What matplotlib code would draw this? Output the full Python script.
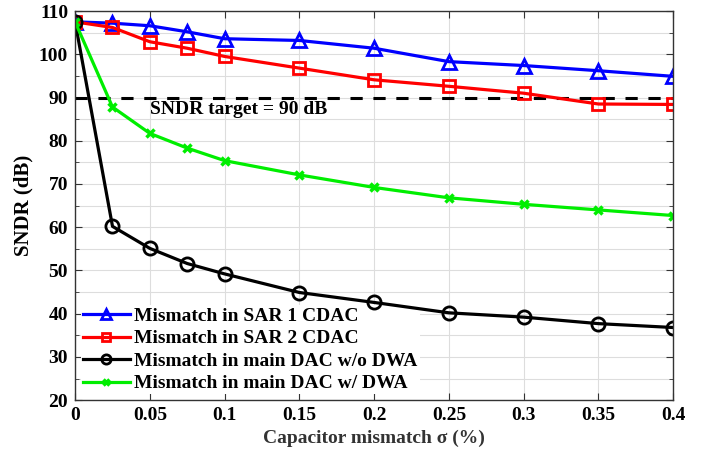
import numpy as np
import matplotlib.pyplot as plt
from matplotlib.ticker import MultipleLocator

plt.rcParams['font.family'] = ['Liberation Serif', 'DejaVu Serif']
plt.rcParams['font.weight'] = 'bold'

# capacitor mismatch sigma (%)
sigma = [0, 0.025, 0.05, 0.075, 0.1, 0.15, 0.2, 0.25, 0.3, 0.35, 0.4]

sar1 = [107.5, 107.2, 106.6, 105.2, 103.6, 103.2, 101.4, 98.3, 97.4, 96.2, 94.9]
sar2 = [107.5, 106.2, 102.9, 101.4, 99.5, 96.8, 94.1, 92.6, 91.0, 88.5, 88.4]
main_nodwa = [107.5, 60.2, 55.1, 51.6, 49.2, 44.9, 42.6, 40.2, 39.2, 37.7, 36.8]
main_dwa = [107.5, 87.8, 81.7, 78.3, 75.4, 72.1, 69.2, 66.8, 65.3, 64.0, 62.7]
target = 90

fig = plt.figure(figsize=(7.02, 4.61), dpi=100)
ax = fig.add_axes([0.107, 0.132, 0.852, 0.844])

ax.plot([0, 0.4], [target, target], 'k--', lw=2.2, dashes=(4, 3.5))
ax.text(0.05, 87.2, 'SNDR target = 90 dB', fontsize=14, fontweight='bold', va='center')

ax.plot(sigma, sar1, color='blue', lw=2.3, marker='^', ms=10, mfc='none', mew=2,
        label='Mismatch in SAR 1 CDAC')
ax.plot(sigma, sar2, color='red', lw=2.3, marker='s', ms=8, mfc='none', mew=2,
        label='Mismatch in SAR 2 CDAC')
ax.plot(sigma, main_nodwa, color='black', lw=2.3, marker='o', ms=9.5, mfc='none', mew=2,
        label='Mismatch in main DAC w/o DWA')
ax.plot(sigma, main_dwa, color='#00ee00', lw=2.3, marker='x', ms=6, mew=2.5,
        label='Mismatch in main DAC w/ DWA')

ax.set_xlim(0, 0.4)
ax.set_ylim(20, 110)
ax.set_xticks(np.arange(0, 0.401, 0.05))
ax.set_xticklabels(['0', '0.05', '0.1', '0.15', '0.2', '0.25', '0.3', '0.35', '0.4'])
ax.set_yticks(np.arange(20, 111, 10))
ax.yaxis.set_minor_locator(MultipleLocator(5))
ax.grid(True, which='major', color='#dddddd', lw=0.8)
ax.grid(True, which='minor', axis='y', color='#dddddd', lw=0.8)
ax.set_axisbelow(True)
ax.tick_params(which='both', direction='in', top=True, right=True, labelsize=14,
               color='#333333', length=5, pad=5)
ax.tick_params(which='minor', length=3)
for lab in ax.get_xticklabels() + ax.get_yticklabels():
    lab.set_fontweight('bold')
for s in ax.spines.values():
    s.set_color('#333333')
    s.set_linewidth(1)
    s.set_zorder(5)

ax.set_xlabel('Capacitor mismatch σ (%)', fontsize=14, fontweight='bold', color='#333333')
ax.set_ylabel('SNDR (dB)', fontsize=15, fontweight='bold')

leg = ax.legend(loc='lower left', frameon=True, fancybox=False, framealpha=1,
                facecolor='white', edgecolor='white', markerscale=0.7,
                handlelength=2.4, handletextpad=0.25, labelspacing=0.25,
                borderaxespad=0.3, borderpad=0.1,
                prop={'weight': 'bold', 'size': 14})
leg.get_frame().set_linewidth(0)
leg.set_zorder(1.5)  # keep the data lines on top of the white legend box

fig.savefig('out.png', dpi=100)
